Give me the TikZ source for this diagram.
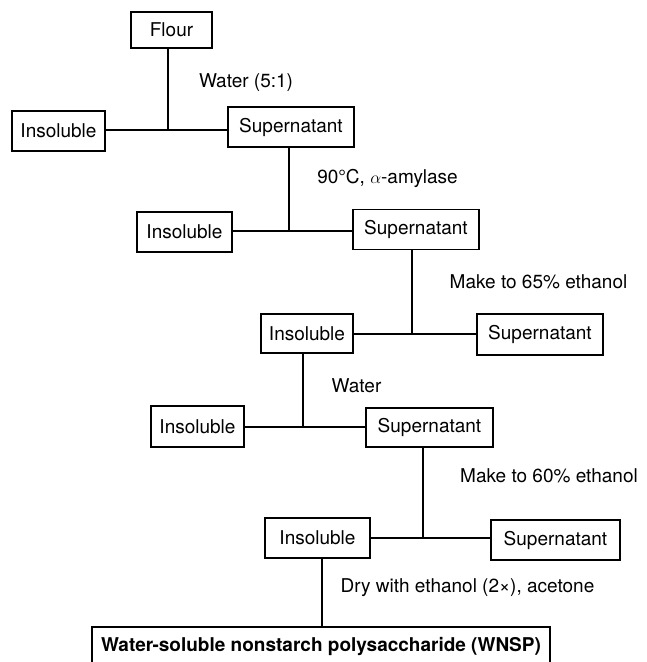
\documentclass[tikz,border=0pt]{standalone}
\usepackage{fontspec}
\setmainfont{TeX Gyre Heros}
\begin{document}
\begin{tikzpicture}[x=1pt,y=-1pt,
  box/.style={draw, line width=1.4pt, inner sep=0pt, minimum height=40pt, font=\fontsize{19}{22}\selectfont},
  lbl/.style={inner sep=0pt, font=\fontsize{19}{22}\selectfont},
  ln/.style={line width=1.4pt}]
\useasboundingbox (0,0) rectangle (647,662);
\node[box, minimum width=81pt, minimum height=36pt] (flour) at (171.5,30) {Flour};
\node[box, minimum width=93pt] (ins1) at (58.5,131) {Insoluble};
\node[box, minimum width=126pt] (sup1) at (291,127) {Supernatant};
\node[box, minimum width=95pt] (ins2) at (184.5,232) {Insoluble};
\node[box, minimum width=126pt] (sup2) at (416,229.5) {Supernatant};
\node[box, minimum width=92pt, minimum height=39pt] (ins3) at (307,333.5) {Insoluble};
\node[box, minimum width=126pt, minimum height=41pt] (sup3) at (540,334.5) {Supernatant};
\node[box, minimum width=93pt, minimum height=41pt] (ins4) at (197.5,426.5) {Insoluble};
\node[box, minimum width=127pt, minimum height=39pt] (sup4) at (429.5,427.5) {Supernatant};
\node[box, minimum width=105pt] (ins5) at (317.5,538) {Insoluble};
\node[box, minimum width=129pt] (sup5) at (555.5,540) {Supernatant};
\node[box, minimum width=458pt, minimum height=38pt, font=\fontsize{19}{22}\selectfont\bfseries] (wnsp) at (321,646) {Water-soluble nonstarch polysaccharide (WNSP)};

\node[lbl] (l1) at (246,83) {Water (5:1)};
\node[lbl] (l2) at (387.5,178) {90°C, $\alpha$-amylase};
\node[lbl] (l3) at (538.5,282) {Make to 65\% ethanol};
\node[lbl] (l4) at (356.5,386) {Water};
\node[lbl] (l5) at (549,476) {Make to 60\% ethanol};
\node[lbl] (l6) at (467.5,588) {Dry with ethanol (2×), acetone};

\coordinate (j1) at (168,130);
\coordinate (j2) at (289,231);
\coordinate (j3) at (412,334);
\coordinate (j4) at (303,427);
\coordinate (j5) at (423,538);
\coordinate (j6) at (322,627);

\draw[ln] (flour.south -| j1) -- (j1);
\draw[ln] (ins1.east |- j1) -- (sup1.west |- j1);
\draw[ln] (sup1.south -| j2) -- (j2);
\draw[ln] (ins2.east |- j2) -- (sup2.west |- j2);
\draw[ln] (sup2.south -| j3) -- (j3);
\draw[ln] (ins3.east |- j3) -- (sup3.west |- j3);
\draw[ln] (ins3.south -| j4) -- (j4);
\draw[ln] (ins4.east |- j4) -- (sup4.west |- j4);
\draw[ln] (sup4.south -| j5) -- (j5);
\draw[ln] (ins5.east |- j5) -- (sup5.west |- j5);
\draw[ln] (ins5.south -| j6) -- (wnsp.north -| j6);
\end{tikzpicture}
\end{document}
